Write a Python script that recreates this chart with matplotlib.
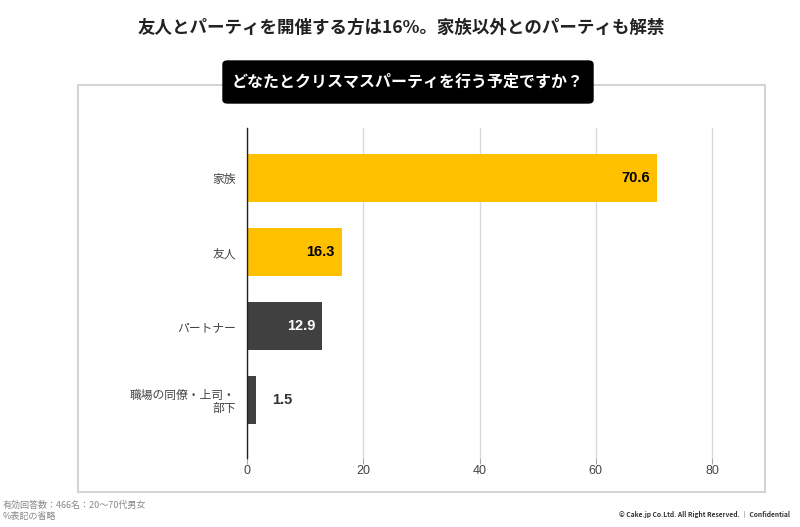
import matplotlib
matplotlib.use('Agg')
import matplotlib.pyplot as plt
from matplotlib.patches import Rectangle, FancyBboxPatch

plt.rcParams['font.family'] = ['Noto Sans CJK JP', 'DejaVu Sans']

# data
categories = ['家族', '友人', 'パートナー', '職場の同僚・上司・\n部下']
values = [70.6, 16.3, 12.9, 1.5]
bar_colors = ['#FFC000', '#FFC000', '#404040', '#404040']
label_colors = ['#000000', '#000000', '#ffffff', '#333333']
xticks = [0, 20, 40, 60, 80]

W, H = 800, 527
fig = plt.figure(figsize=(8.0, 5.27), dpi=100)
fig.patch.set_facecolor('white')

# outer light frame
fig.patches.append(Rectangle((78 / W, 1 - 492 / H), (765 - 78) / W, (492 - 85) / H,
                             transform=fig.transFigure, fill=False,
                             edgecolor='#d4d4d4', linewidth=1.5, zorder=0))

# title
fig.text(401 / W, 1 - 28 / H, '友人とパーティを開催する方は16%。家族以外とのパーティも解禁',
         ha='center', va='center', fontsize=12.6, fontweight='bold', color='#222222')

# subtitle box
fig.patches.append(FancyBboxPatch((223 / W, 1 - 103 / H), (593 - 223) / W, (103 - 61) / H,
                                  boxstyle='round,pad=0,rounding_size=0.006',
                                  transform=fig.transFigure, facecolor='black',
                                  edgecolor='black', zorder=2))
fig.text(408 / W, 1 - 82 / H, 'どなたとクリスマスパーティを行う予定ですか？',
         ha='center', va='center', fontsize=11.5, fontweight='bold', color='white', zorder=3)

# main axes (a bit of room right of 80 so its gridline isn't clipped)
x0, x1 = 247, 714
y_top, y_bot = 128, 458
ax = fig.add_axes([x0 / W, 1 - y_bot / H, (x1 - x0) / W, (y_bot - y_top) / H])
pos = list(range(len(categories)))
ax.barh(pos, values, height=0.65, color=bar_colors, zorder=3)
ax.set_ylim(3.78, -0.68)
ax.set_xlim(0, 80 * (x1 - x0) / (712 - x0))
ax.set_xticks(xticks)
ax.set_xticklabels([str(t) for t in xticks], fontsize=9, color='#444444',
                   family='Liberation Sans')
ax.set_yticks(pos)
ax.set_yticklabels(categories, fontsize=8.5, color='#444444', linespacing=1.0)
ax.tick_params(axis='y', length=0, pad=8)
ax.tick_params(axis='x', length=4, color='#aaaaaa', pad=1)
ax.grid(axis='x', color='#d9d9d9', linewidth=1, zorder=0)
for s in ['top', 'right', 'bottom']:
    ax.spines[s].set_visible(False)
ax.spines['left'].set_color('#222222')
ax.spines['left'].set_linewidth(1)
ax.spines['left'].set_zorder(4)

for i, v in enumerate(values):
    if v > 5:
        ax.text(v - 1.2, i, f'{v}', ha='right', va='center', fontsize=10.5,
                fontweight='bold', color=label_colors[i], family='Liberation Sans', zorder=5)
    else:
        ax.text(v + 2.8, i, f'{v}', ha='left', va='center', fontsize=10.5,
                fontweight='bold', color=label_colors[i], family='Liberation Sans', zorder=5)

# footer notes
fig.text(3 / W, 1 - 505 / H, '有効回答数：466名：20～70代男女', ha='left', va='center',
         fontsize=6.5, color='#888888')
fig.text(3 / W, 1 - 517 / H, '%表記の省略', ha='left', va='center',
         fontsize=6.5, color='#888888')
fig.text(790 / W, 1 - 514 / H, '© Cake.jp Co.Ltd. All Right Reserved. ｜ Confidential',
         ha='right', va='center', fontsize=4.8, fontweight='bold', color='#333333')

fig.savefig('out.png', dpi=100)
